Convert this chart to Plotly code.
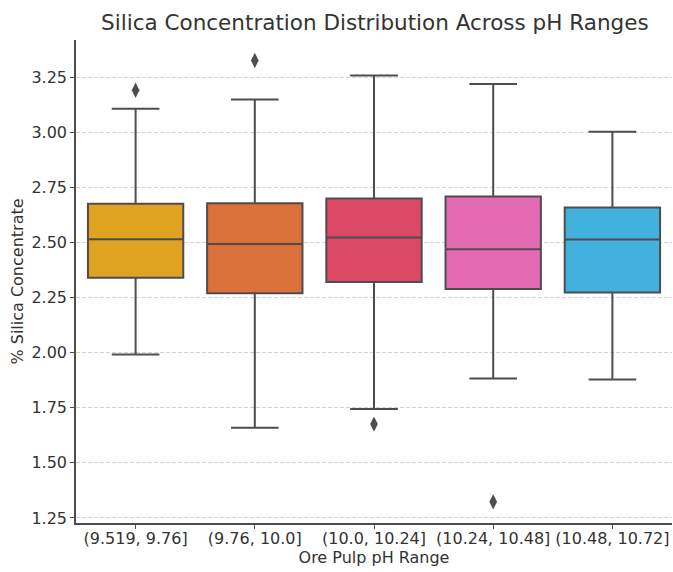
import plotly.graph_objects as go

categories = ["(9.519, 9.76]", "(9.76, 10.0]", "(10.0, 10.24]", "(10.24, 10.48]", "(10.48, 10.72]"]
lower_whisker = [1.992, 1.659, 1.745, 1.883, 1.879]
q1_vals = [2.340, 2.270, 2.321, 2.290, 2.273]
median_vals = [2.515, 2.494, 2.523, 2.470, 2.514]
q3_vals = [2.677, 2.679, 2.700, 2.709, 2.659]
upper_whisker = [3.108, 3.150, 3.259, 3.220, 3.003]
outlier_cats = ["(9.519, 9.76]", "(9.76, 10.0]", "(10.0, 10.24]", "(10.24, 10.48]"]
outlier_vals = [3.192, 3.327, 1.676, 1.323]
colors = ["#DFA221", "#DA713A", "#DC4964", "#E46AB4", "#42B1E0"]

edge = "#4d4d4d"
fig = go.Figure()
for i, c in enumerate(categories):
    fig.add_trace(go.Box(
        x=[c], q1=[q1_vals[i]], median=[median_vals[i]], q3=[q3_vals[i]],
        lowerfence=[lower_whisker[i]], upperfence=[upper_whisker[i]],
        fillcolor=colors[i], line=dict(color=edge, width=2),
        width=0.8, whiskerwidth=0.5, showlegend=False, hoverinfo="skip",
        boxpoints=False,
    ))

fig.add_trace(go.Scatter(
    x=outlier_cats, y=outlier_vals, mode="markers",
    marker=dict(symbol="diamond-tall", size=11, color=edge, line=dict(width=0)),
    showlegend=False, hoverinfo="skip",
))

font_family = "DejaVu Sans, sans-serif"
fig.update_layout(
    width=673, height=572,
    margin=dict(l=76, r=1, t=40, b=49),
    paper_bgcolor="white", plot_bgcolor="white",
    font=dict(family=font_family, color="#333333", size=16),
    title=dict(text="Silica Concentration Distribution Across pH Ranges",
               x=0.557, xanchor="center", y=0.961, yanchor="middle",
               font=dict(size=21.5, color="#333333"), automargin=False),
    boxmode="overlay",
    xaxis=dict(
        type="category", categoryorder="array", categoryarray=categories,
        range=[-0.5, 4.5], showline=True, linecolor=edge, linewidth=1.5,
        ticks="outside", ticklen=4, tickcolor=edge, showgrid=False,
        tickfont=dict(size=16, color="#333333"), automargin=False,
        ticklabelstandoff=-4,
        title=dict(text="Ore Pulp pH Range", font=dict(size=16, color="#333333"), standoff=3),
    ),
    yaxis=dict(
        range=[1.227, 3.42], tick0=1.25, dtick=0.25, tickformat=".2f",
        showline=True, linecolor=edge, linewidth=1.5,
        ticks="outside", ticklen=4, tickcolor=edge,
        showgrid=True, gridcolor="#d4d4d4", griddash="4px,2px", gridwidth=1,
        zeroline=False, tickfont=dict(size=16, color="#333333"), automargin=False,
        title=dict(text="% Silica Concentrate", font=dict(size=16, color="#333333"), standoff=4),
    ),
)

fig.write_html(
    "out.html",
    config={"displayModeBar": False},
    post_script="document.body.style.margin='0';document.body.style.overflow='hidden';",
)
